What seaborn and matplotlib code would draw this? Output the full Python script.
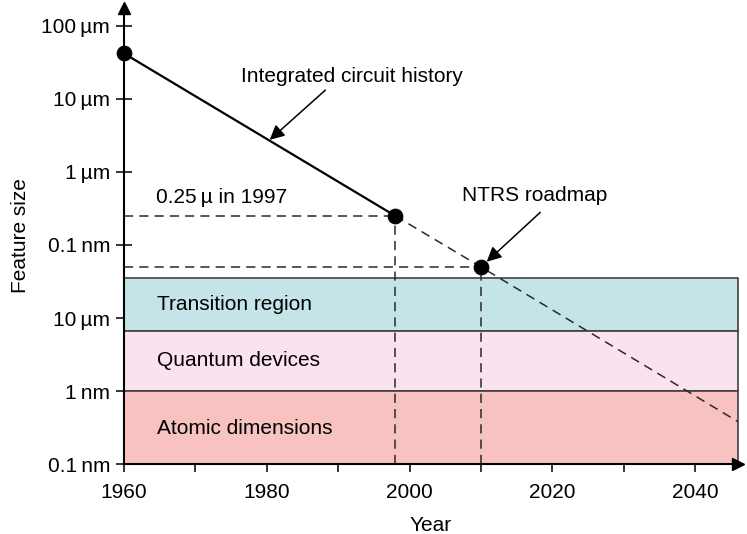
import matplotlib
matplotlib.use("Agg")
import matplotlib.pyplot as plt
import seaborn as sns
import pandas as pd

sns.set_style("ticks")
plt.rcParams['font.family'] = ['Liberation Sans', 'DejaVu Sans']
plt.rcParams['text.color'] = 'black'
plt.rcParams['axes.labelcolor'] = 'black'

# Data (feature size in micrometres)
history_years = [1960, 1998]
history_sizes = [42, 0.25]
roadmap_years = [1998, 2010, 2046]
roadmap_sizes = [0.25, 0.05, 0.00038]
point_years = [1960, 1998, 2010]
point_sizes = [42, 0.25, 0.05]

ytick_values = [100, 10, 1, 0.1, 0.01, 0.001, 0.0001]
ytick_labels = ["100\u2009µm", "10\u2009µm", "1\u2009µm", "0.1\u2009nm", "10\u2009µm", "1\u2009nm", "0.1\u2009nm"]
xtick_major = [1960, 1980, 2000, 2020, 2040]
xtick_minor = [1970, 1990, 2010, 2030]

band_names = ["Transition region", "Quantum devices", "Atomic dimensions"]
band_top = [0.035, 0.0066, 0.001]
band_bottom = [0.0066, 0.001, 0.0001]
band_colors = ["#c4e4e8", "#fae2ee", "#f7c2c0"]
band_label_y = [0.0152, 0.00266, 0.00031]

x_min, x_max = 1960, 2046
y_min, y_max = 1e-4, 176
FS = 15

fig = plt.figure(figsize=(7.47, 5.34), dpi=100)
ax = fig.add_axes([0.166, 0.131, 0.822, 0.854])
ax.set_yscale("log")
ax.set_xlim(x_min, x_max)
ax.set_ylim(y_min, y_max)

# bands
for top, bot, col, name, ly in zip(band_top, band_bottom, band_colors, band_names, band_label_y):
    ax.fill_between([x_min, x_max], bot, top, facecolor=col, edgecolor="#404040", linewidth=1.2, zorder=1)
    ax.text(1964.6, ly, name, fontsize=FS, va="center", ha="left", zorder=5)

# dashed guide lines
dash = (0, (6, 4))
for yr, sz in zip(roadmap_years[:2], roadmap_sizes[:2]):
    ax.plot([x_min, yr], [sz, sz], color="#2a2a2a", lw=1.1, linestyle=dash, zorder=3)
    ax.plot([yr, yr], [y_min, sz], color="#2a2a2a", lw=1.1, linestyle=dash, zorder=3)

hist = pd.DataFrame({"year": history_years, "size": history_sizes})
road = pd.DataFrame({"year": roadmap_years, "size": roadmap_sizes})
pts = pd.DataFrame({"year": point_years, "size": point_sizes})

sns.lineplot(data=hist, x="year", y="size", ax=ax, color="black", lw=1.6, zorder=4)
sns.lineplot(data=road, x="year", y="size", ax=ax, color="#2a2a2a", lw=1.1, zorder=4)
ax.lines[-1].set_linestyle(dash)
sns.scatterplot(data=pts, x="year", y="size", ax=ax, color="black", s=110, edgecolor="black", zorder=6, clip_on=False)

# annotations
ax.text(1991.9, 20, "Integrated circuit history", fontsize=FS, ha="center", va="center")
ax.annotate("", xy=(1980.4, 2.75), xytext=(1988.2, 13.2),
            arrowprops=dict(arrowstyle="-|>", color="black", lw=1.1, mutation_scale=22, shrinkA=0, shrinkB=0))
ax.text(2017.5, 0.48, "NTRS roadmap", fontsize=FS, ha="center", va="center")
ax.annotate("", xy=(2010.8, 0.059), xytext=(2018.3, 0.28),
            arrowprops=dict(arrowstyle="-|>", color="black", lw=1.1, mutation_scale=22, shrinkA=0, shrinkB=0))
ax.text(1964.5, 0.45, "0.25\u2009µ in 1997", fontsize=FS, ha="left", va="center")

# axes styling
for s in ["top", "right"]:
    ax.spines[s].set_visible(False)
for s in ["left", "bottom"]:
    ax.spines[s].set_linewidth(1.5)
    ax.spines[s].set_color("black")
    ax.spines[s].set_zorder(7)

ax.set_yticks(ytick_values)
ax.set_yticklabels(ytick_labels)
ax.yaxis.set_minor_locator(matplotlib.ticker.NullLocator())
ax.set_xticks(xtick_major)
ax.set_xticks(xtick_minor, minor=True)
ax.tick_params(axis="both", which="both", direction="inout", length=12, width=1.1,
               labelsize=FS, colors="black")
ax.tick_params(axis="x", which="both", pad=8)
ax.tick_params(axis="y", which="both", pad=4)

ax.set_xlabel("Year", fontsize=FS, labelpad=10)
ax.set_ylabel("Feature size", fontsize=FS, labelpad=8)

ax.plot(1, 0, ">k", transform=ax.transAxes, clip_on=False, markersize=8, zorder=8)
ax.plot(0, 1, "^k", transform=ax.transAxes, clip_on=False, markersize=8, zorder=8)

fig.savefig("out.png", dpi=100)
